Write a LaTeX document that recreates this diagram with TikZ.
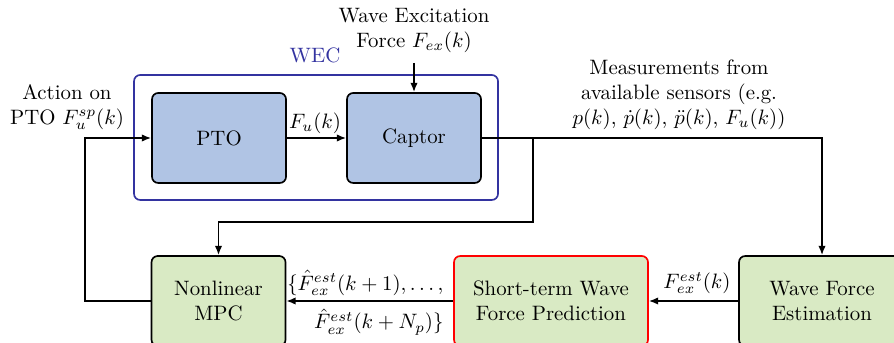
\documentclass[tikz,border=0pt]{standalone}
\usetikzlibrary{arrows.meta,positioning}
\definecolor{ptoblue}{RGB}{176,196,228}
\definecolor{mpcgreen}{RGB}{217,234,196}
\definecolor{wecblue}{RGB}{51,51,160}
\begin{document}
\begin{tikzpicture}[x=0.48pt,y=-0.48pt,
  blk/.style={draw, thick, rounded corners=3pt, minimum height=43.2pt, align=center, inner sep=2pt},
  bbox/.style={blk, fill=ptoblue, minimum width=64.32pt},
  gbox/.style={blk, fill=mpcgreen},
  arr/.style={thick, -{Latex[length=4.5pt,width=3.6pt]}},
  ln/.style={thick},
  lbl/.style={align=center, inner sep=1pt}]
\useasboundingbox (0,0) rectangle (894,343);
% WEC frame
\draw[wecblue, thick, rounded corners=3pt] (134,75) rectangle (498,200);
\node[wecblue] (wec) at (315,55) {WEC};
% top blocks
\node[bbox] (pto) at (219,138) {PTO};
\node[bbox] (cap) at (414,138) {Captor};
% bottom blocks
\node[gbox, minimum width=64.32pt] (mpc) at (218.5,301) {Nonlinear\\MPC};
\node[gbox, draw=red, minimum width=93.12pt] (stp) at (551,301) {Short-term Wave\\Force Prediction};
\node[gbox, minimum width=79.68pt] (wfe) at (822,301) {Wave Force\\Estimation};
% labels
\node[lbl] (wex) at (414,30) {Wave Excitation\\Force $F_{ex}(k)$};
\node[lbl] (act) at (67,107) {Action on\\PTO $F_u^{sp}(k)$};
\node[lbl] (meas) at (679,95) {Measurements from\\available sensors (e.g.\\$p(k)$, $\dot p(k)$, $\ddot p(k)$, $F_u(k)$)};
\node[lbl] (fu) at (315,123) {$F_u(k)$};
\node[lbl] (fest) at (697,283) {$F_{ex}^{est}(k)$};
\node[lbl, anchor=east] (pr1) at (446,283) {$\{\hat F_{ex}^{est}(k+1),\ldots,$};
\node[lbl, anchor=east] (pr2) at (446,322) {$\hat F_{ex}^{est}(k+N_p)\}$};
% coordinates
\coordinate (br) at (533,138);
\coordinate (br2) at (533,222);
\coordinate (br3) at (218.5,222);
\coordinate (me) at (822,138);
\coordinate (fb1) at (85,301);
\coordinate (fb2) at (85,138);
\coordinate (wtop) at (414,63);
% connectors
\draw[arr] (wtop) -- (cap.north);
\draw[arr] (pto.east) -- (cap.west);
\draw[arr] (cap.east) -- (me) -- (wfe.north);
\draw[arr] (br) -- (br2) -- (br3) -- (mpc.north);
\draw[arr] (wfe.west) -- (stp.east);
\draw[arr] (stp.west) -- (mpc.east);
\draw[arr] (mpc.west) -- (fb1) -- (fb2) -- (pto.west);
\end{tikzpicture}
\end{document}
